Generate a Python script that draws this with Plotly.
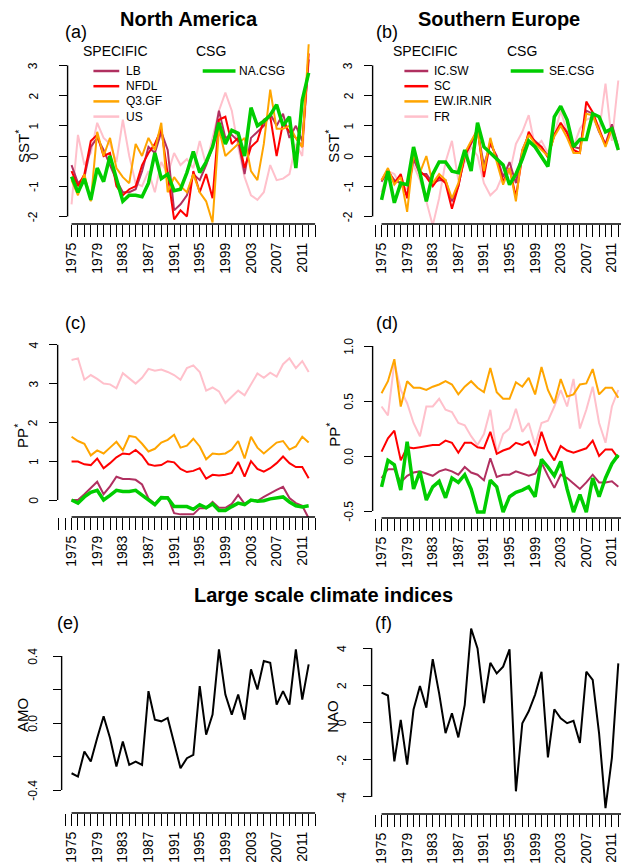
import plotly.graph_objects as go

years = list(range(1975, 2013))

# ---------------- (a) North America, SST* ----------------
na_sst_lb = [-0.3, -0.9, -0.7, 0.3, 0.6, 0.2, -0.3, -0.8, -1.2, -1.2, -1.1, -0.5, 0.3, 0.1, 0.8, 0.2,
             -1.8, -1.6, -1.3, -0.6, -0.8, -0.3, 0.3, 1.5, 0.6, 0.7, 0.5, -0.6, 0.6, 0.8, 1.0, 1.4,
             1.0, 1.4, 0.6, 1.0, 0.5, 3.2]
na_sst_nfdl = [-0.5, -1.0, -0.6, 0.5, 0.7, 0.0, 0.1, -1.0, -1.3, -1.1, -1.0, -0.3, 0.1, 0.4, 0.9, -0.6,
               -2.1, -1.8, -2.0, -0.5, -1.2, -0.6, -1.4, 1.2, 1.3, 0.4, 0.6, -0.4, 0.3, 0.5, 1.2, 1.3,
               0.0, 1.1, 0.8, 0.6, 0.3, 3.4]
na_sst_q3gf = [-0.8, -1.3, -0.6, -1.5, 0.8, 0.0, 0.6, -0.4, -0.7, -0.9, 0.4, 0.0, 0.6, 0.2, 1.1, -1.2,
               -0.7, -1.0, -1.2, -0.6, -1.2, -1.5, -2.2, 0.9, 0.0, 0.2, 0.4, 0.6, -0.5, -0.8, 0.4, 2.2,
               0.9, 0.9, 1.0, 0.6, 0.3, 3.7]
na_sst_us = [-1.6, 0.7, -0.3, 0.1, 1.1, 0.6, 0.4, -0.2, 1.2, 0.0, -0.9, -1.0, -0.5, -1.2, -0.2, -0.6,
             0.1, -0.3, -0.1, -0.4, 0.5, -0.3, 0.6, 1.5, 2.1, 1.5, 0.3, -0.7, -1.3, -1.45, -1.2, -0.3,
             -0.8, -0.75, -0.6, 0.4, 0.0, 3.2]
na_sst_csg = [-0.68, -1.2, -0.75, -1.45, -0.4, -0.85, 0.0, -0.8, -1.5, -1.3, -1.3, -1.35, -0.9, 0.1,
              -0.75, -0.6, -1.15, -1.1, -0.55, 0.15, -0.55, -0.2, 0.3, 1.1, 0.4, 0.85, 0.75, 0.0, 1.6,
              1.0, 1.15, 1.35, 1.7, 1.0, 1.3, -0.4, 1.85, 2.75]

# ---------------- (b) Southern Europe, SST* ----------------
se_sst_icsw = [-0.85, -0.5, -0.8, -0.9, -1.3, -0.1, -0.6, -0.6, -0.9, -0.8, -0.8, -1.5, -1.0, 0.0, 0.4,
               0.85, -0.3, 0.4, 0.0, -0.7, -0.2, -0.9, 0.2, 0.7, 0.5, 0.3, 0.0, 0.7, 1.05, 0.8, 0.3,
               0.25, 1.5, 1.4, 0.8, 0.4, 1.05, 0.3]
se_sst_sc = [-0.8, -0.45, -0.9, -0.6, -1.4, 0.05, -0.5, -0.7, -1.0, -0.7, -0.9, -1.75, -1.0, 0.0, 0.45,
             0.9, -0.7, 0.5, -0.1, -0.85, -0.4, -1.35, 0.0, 0.8, 0.45, 0.3, -0.05, 0.7, 1.1, 0.75, 0.2,
             0.1, 1.8, 1.45, 0.9, 0.35, 0.95, 0.2]
se_sst_ewirnir = [-0.8, -0.4, -0.95, -0.7, -1.85, 0.1, -0.55, 0.0, -0.9, -0.6, -0.8, -1.4, -0.9, 0.1,
                  0.5, 0.85, -0.5, 0.6, -0.2, -0.95, -0.4, -1.5, 0.2, 0.7, 0.4, 0.2, 0.0, 0.65, 1.0,
                  0.6, 0.1, 0.1, 1.4, 1.35, 0.8, 0.3, 0.9, 0.25]
se_sst_fr = [-1.2, -0.5, -0.6, -1.0, -1.1, -0.3, -0.8, -1.5, -2.3, -1.4, -0.2, 0.5, -0.8, -0.2, 0.3,
             0.0, -0.9, -1.3, -1.1, -0.6, -0.6, 0.4, 0.8, 1.35, 0.3, 0.5, 0.1, 0.7, 1.5, 0.8, 0.3,
             0.9, 1.2, 1.3, 0.8, 2.4, 0.5, 2.5]
se_sst_csg = [-1.45, -0.5, -1.55, -0.9, -0.95, 0.3, -0.55, -1.5, -0.6, -0.2, -0.2, -0.5, -0.55, 0.2,
              -0.5, 1.1, 0.3, 0.1, -0.1, -0.3, -0.95, -0.6, -0.1, 0.5, 0.3, 0.0, -0.35, 1.3, 1.65,
              1.2, 0.3, 0.55, 0.55, 1.4, 1.3, 0.8, 0.9, 0.2]

# ---------------- (c) North America, PP* ----------------
na_pp_lb = [0.0, 0.0, 0.15, 0.3, 0.47, 0.15, 0.35, 0.6, 0.54, 0.54, 0.52, 0.4, 0.04, -0.1, 0.08, 0.08,
            -0.34, -0.37, -0.37, -0.37, -0.21, -0.21, -0.05, -0.2, -0.2, -0.1, 0.13, -0.1, 0.0, -0.02,
            0.08, 0.18, 0.26, 0.34, 0.05, -0.08, -0.15, -0.47]
na_pp_nfdl = [0.99, 0.99, 0.92, 0.9, 1.07, 0.82, 0.95, 1.1, 1.2, 1.18, 1.29, 1.15, 0.92, 0.88, 0.9, 1.0,
              0.97, 0.8, 0.72, 0.75, 0.82, 0.55, 0.65, 0.63, 0.65, 0.7, 0.98, 0.6, 1.0, 0.8, 0.73, 0.82,
              0.95, 1.12, 0.95, 0.85, 0.85, 0.56]
na_pp_q3gf = [1.63, 1.52, 1.45, 1.15, 1.28, 1.2, 1.35, 1.5, 1.28, 1.65, 1.62, 1.45, 1.25, 1.32, 1.48,
              1.55, 1.68, 1.35, 1.4, 1.58, 1.38, 1.05, 1.2, 1.18, 1.2, 1.3, 1.52, 1.07, 1.63, 1.35, 1.2,
              1.35, 1.48, 1.52, 1.3, 1.38, 1.63, 1.48]
na_pp_us = [3.61, 3.65, 3.1, 3.22, 3.12, 3.0, 2.98, 2.88, 3.27, 3.13, 3.0, 3.15, 3.38, 3.33, 3.36, 3.3,
            3.22, 3.1, 3.4, 3.47, 3.3, 2.82, 2.9, 2.8, 2.5, 2.66, 2.82, 2.7, 3.0, 3.26, 3.15, 3.28, 3.18,
            3.5, 3.65, 3.4, 3.58, 3.3]
na_pp_csg = [0.0, -0.08, 0.08, 0.2, 0.25, 0.0, 0.12, 0.25, 0.22, 0.22, 0.25, 0.12, 0.0, -0.12, 0.06,
             0.05, -0.17, -0.17, -0.17, -0.24, -0.12, -0.2, -0.1, -0.27, -0.27, -0.17, -0.08, -0.12,
             0.0, -0.03, -0.02, 0.03, 0.05, 0.08, -0.05, -0.15, -0.18, -0.15]

# ---------------- (d) Southern Europe, PP* ----------------
se_pp_icsw = [-0.2, -0.12, -0.12, -0.24, -0.18, -0.15, -0.14, -0.16, -0.18, -0.14, -0.12, -0.14, -0.17,
              -0.1, -0.15, -0.17, -0.22, -0.02, -0.19, -0.17, -0.17, -0.14, -0.16, -0.18, -0.16, -0.06,
              -0.18, -0.29, -0.17, -0.2, -0.25, -0.3, -0.24, -0.17, -0.24, -0.24, -0.23, -0.28]
se_pp_sc = [0.04, 0.16, 0.23, -0.04, 0.08, 0.07, 0.08, 0.09, 0.1, 0.1, 0.14, 0.12, 0.03, 0.12, 0.12, 0.08,
            0.07, 0.22, 0.02, 0.05, 0.07, 0.12, 0.1, 0.13, 0.0, 0.22, 0.05, -0.04, 0.09, 0.05, 0.03, 0.05,
            0.07, 0.14, 0.0, 0.06, 0.06, -0.02]
se_pp_ewirnir = [0.57, 0.68, 0.88, 0.45, 0.68, 0.62, 0.62, 0.6, 0.63, 0.65, 0.68, 0.65, 0.56, 0.63, 0.68,
                 0.62, 0.58, 0.8, 0.58, 0.52, 0.52, 0.67, 0.63, 0.71, 0.56, 0.81, 0.6, 0.48, 0.7, 0.54,
                 0.56, 0.65, 0.66, 0.79, 0.56, 0.62, 0.62, 0.53]
se_pp_fr = [0.45, 0.37, 0.85, 0.6, 0.48, 0.3, 0.18, 0.45, 0.45, 0.52, 0.42, 0.4, 0.3, 0.28, 0.18, 0.1,
            0.2, 0.42, 0.03, 0.2, 0.25, 0.43, 0.22, 0.3, 0.1, 0.3, 0.32, 0.45, 0.6, 0.45, 0.7, 0.25, 0.42,
            0.63, 0.3, 0.12, 0.45, 0.6]
se_pp_csg = [-0.28, -0.04, -0.08, -0.31, 0.13, -0.3, -0.14, -0.4, -0.28, -0.23, -0.38, -0.2, -0.24,
             -0.17, -0.3, -0.51, -0.51, -0.22, -0.28, -0.51, -0.37, -0.33, -0.31, -0.28, -0.37, -0.03,
             -0.1, -0.18, -0.05, -0.3, -0.51, -0.35, -0.51, -0.2, -0.37, -0.2, -0.07, 0.01]

# ---------------- (e) AMO, (f) NAO ----------------
amo = [-0.30, -0.32, -0.17, -0.23, -0.09, 0.04, -0.09, -0.26, -0.11, -0.25, -0.23, -0.25, 0.19, 0.02,
       0.01, 0.03, -0.12, -0.27, -0.21, -0.19, 0.22, -0.07, 0.05, 0.44, 0.17, 0.05, 0.17, 0.02, 0.32,
       0.20, 0.37, 0.36, 0.11, 0.19, 0.11, 0.44, 0.14, 0.35]
nao = [1.61, 1.45, -2.09, 0.14, -2.27, 0.7, 1.96, 0.8, 3.41, 1.57, -0.57, 0.5, -0.8, 0.95, 5.05, 3.98,
       1.04, 3.21, 2.64, 3.0, 3.93, -3.7, -0.04, 0.6, 1.5, 2.73, -1.88, 0.71, 0.23, -0.04, 0.09, -1.1,
       2.73, 2.29, -0.6, -4.6, -1.9, 3.18]

# ---------------- tick labels ----------------
sst_ticks = [-2, -1, 0, 1, 2, 3]
sst_ticktext = ["-2", "-1", "0", "1", "2", "3"]
pp_na_ticks = [0, 1, 2, 3, 4]
pp_na_ticktext = ["0", "1", "2", "3", "4"]
pp_se_ticks = [-0.5, 0.0, 0.5, 1.0]
pp_se_ticktext = ["-0.5", "0.0", "0.5", "1.0"]
amo_ticks = [-0.4, -0.2, 0.0, 0.2, 0.4]
amo_ticktext = ["-0.4", "", "0.0", "", "0.4"]
nao_ticks = [-4, -2, 0, 2, 4]
nao_ticktext = ["-4", "-2", "0", "2", "4"]

na_names = ["LB", "NFDL", "Q3.GF", "US"]
se_names = ["IC.SW", "SC", "EW.IR.NIR", "FR"]

# ---------------- styling ----------------
W, H = 621, 867
FONT = "Liberation Sans, Arial, Helvetica, sans-serif"
MAROON, RED, ORANGE, PINK, GREEN = "#B03060", "#FF0000", "#FFA500", "#FFC0CB", "#00CD00"
series_cols = [MAROON, RED, ORANGE, PINK]


def py(p):
    return 1 - p / H


def pxx(p):
    return p / W


fig = go.Figure()

# panel geometry in pixels
panels = {
    "a": dict(ax=1, xl=64, xr=315, yt=44, yb=224, x1975=68, sx=6.45, y0=156, sy=30.2,
              ticks=sst_ticks, ticktext=sst_ticktext, labx=30),
    "b": dict(ax=2, xl=371, xr=621, yt=44, yb=224, x1975=380, sx=6.44, y0=156, sy=30.2,
              ticks=sst_ticks, ticktext=sst_ticktext, labx=347),
    "c": dict(ax=3, xl=54, xr=315, yt=339, yb=517, x1975=68, sx=6.45, y0=500, sy=38.8,
              ticks=pp_na_ticks, ticktext=pp_na_ticktext, labx=30),
    "d": dict(ax=4, xl=371, xr=621, yt=339, yb=518, x1975=380, sx=6.44, y0=456, sy=110.0,
              ticks=pp_se_ticks, ticktext=pp_se_ticktext, labx=347),
    "e": dict(ax=5, xl=58, xr=315, yt=621, yb=813, x1975=68, sx=6.45, y0=723, sy=167.5,
              ticks=amo_ticks, ticktext=amo_ticktext, labx=29),
    "f": dict(ax=6, xl=370, xr=621, yt=621, yb=814, x1975=380, sx=6.44, y0=722.5, sy=18.6,
              ticks=nao_ticks, ticktext=nao_ticktext, labx=340),
}

layout_axes = {}
shapes = []
annotations = []

for key, p in panels.items():
    n = p["ax"]
    sfx = "" if n == 1 else str(n)
    xr0 = 1975 - (p["x1975"] - p["xl"]) / p["sx"]
    xr1 = xr0 + (p["xr"] - p["xl"]) / p["sx"]
    yr0 = (p["y0"] - p["yb"]) / p["sy"]
    yr1 = (p["y0"] - p["yt"]) / p["sy"]
    layout_axes["xaxis" + sfx] = dict(
        domain=[pxx(p["xl"]), pxx(p["xr"])], range=[xr0, xr1], anchor="y" + sfx,
        showgrid=False, zeroline=False, showline=False,
        tickmode="linear", tick0=1975, dtick=4, tickangle=-90,
        ticks="outside", ticklen=12, tickwidth=1.4, tickcolor="black",
        tickfont=dict(family=FONT, size=14, color="black"),
        minor=dict(tickmode="linear", tick0=1975, dtick=1, ticks="outside", ticklen=12,
                   tickwidth=1.4, tickcolor="black", showgrid=False),
    )
    layout_axes["yaxis" + sfx] = dict(
        domain=[py(p["yb"]), py(p["yt"])], range=[yr0, yr1], anchor="x" + sfx,
        showgrid=False, zeroline=False, showline=False,
        tickmode="array", tickvals=p["ticks"], showticklabels=False,
        ticks="outside", ticklen=8, tickwidth=1.4, tickcolor="black",
    )
    xa = "x" + sfx
    ya = "y" + sfx
    # R-style axis lines spanning first to last tick
    shapes.append(dict(type="line", xref=xa + " domain", yref=ya, x0=0, x1=0,
                       y0=min(p["ticks"]), y1=max(p["ticks"]), line=dict(color="black", width=1.4)))
    shapes.append(dict(type="line", xref=xa, yref=ya + " domain", x0=1975, x1=2013,
                       y0=0, y1=0, line=dict(color="black", width=1.4)))
    # y tick labels (rotated, R style)
    for tv, tt in zip(p["ticks"], p["ticktext"]):
        if tt:
            annotations.append(dict(xref="paper", yref=ya, x=pxx(p["labx"]), y=tv, text=tt,
                                    showarrow=False, textangle=-90, xanchor="center", yanchor="middle",
                                    font=dict(family=FONT, size=12, color="black")))


def add_series(n, values, color, width, name):
    sfx = "" if n == 1 else str(n)
    fig.add_trace(go.Scatter(x=years, y=values, mode="lines", name=name,
                             line=dict(color=color, width=width),
                             xaxis="x" + sfx, yaxis="y" + sfx, showlegend=False,
                             hoverinfo="skip"))


for vals, col, nm in zip([na_sst_us, na_sst_lb, na_sst_nfdl, na_sst_q3gf],
                         [PINK, MAROON, RED, ORANGE], [na_names[3], na_names[0], na_names[1], na_names[2]]):
    add_series(1, vals, col, 2, nm)
add_series(1, na_sst_csg, GREEN, 3.5, "NA.CSG")

for vals, col, nm in zip([se_sst_fr, se_sst_icsw, se_sst_sc, se_sst_ewirnir],
                         [PINK, MAROON, RED, ORANGE], [se_names[3], se_names[0], se_names[1], se_names[2]]):
    add_series(2, vals, col, 2, nm)
add_series(2, se_sst_csg, GREEN, 3.5, "SE.CSG")

for vals, col, nm in zip([na_pp_us, na_pp_lb, na_pp_nfdl, na_pp_q3gf],
                         [PINK, MAROON, RED, ORANGE], [na_names[3], na_names[0], na_names[1], na_names[2]]):
    add_series(3, vals, col, 2, nm)
add_series(3, na_pp_csg, GREEN, 3.5, "NA.CSG")

for vals, col, nm in zip([se_pp_fr, se_pp_icsw, se_pp_sc, se_pp_ewirnir],
                         [PINK, MAROON, RED, ORANGE], [se_names[3], se_names[0], se_names[1], se_names[2]]):
    add_series(4, vals, col, 2, nm)
add_series(4, se_pp_csg, GREEN, 3.5, "SE.CSG")

add_series(5, amo, "black", 2, "AMO")
add_series(6, nao, "black", 2, "NAO")


def text(x, y, s, size, bold=False, angle=0, xanchor="center"):
    annotations.append(dict(xref="paper", yref="paper", x=pxx(x), y=py(y), text=("<b>%s</b>" % s) if bold else s,
                            showarrow=False, textangle=angle, xanchor=xanchor, yanchor="middle",
                            font=dict(family=FONT, size=size, color="black")))


# titles
text(186, 19, "North America", 20, bold=True)
text(498, 19, "Southern Europe", 20, bold=True)
text(322, 595, "Large scale climate indices", 20, bold=True)
# panel labels
for lab, x, y in [("(a)", 72, 32), ("(b)", 385, 32), ("(c)", 72, 323), ("(d)", 385, 323), ("(e)", 64, 623),
                  ("(f)", 382, 623)]:
    text(x, y, lab, 18)
# y labels
text(18, 146, "SST<sup>*</sup>", 15, angle=-90)
text(330, 146, "SST<sup>*</sup>", 15, angle=-90)
text(17, 436, "PP<sup>*</sup>", 15, angle=-90)
text(331, 435, "PP<sup>*</sup>", 15, angle=-90)
text(18, 715, "AMO", 15, angle=-90)
text(330, 716, "NAO", 15, angle=-90)


# legends
def legend(x_head1, x_head2, line_x0, line_x1, text_x, names, csg_x0, csg_x1, csg_tx, csg_name):
    text(x_head1, 51, "SPECIFIC", 14)
    text(x_head2, 51, "CSG", 14)
    for i, (nm, col) in enumerate(zip(names, series_cols)):
        yy = 71 + i * 15.2
        shapes.append(dict(type="line", xref="paper", yref="paper", x0=pxx(line_x0), x1=pxx(line_x1),
                           y0=py(yy), y1=py(yy), line=dict(color=col, width=2.5)))
        text(text_x, yy, nm, 12, xanchor="left")
    shapes.append(dict(type="line", xref="paper", yref="paper", x0=pxx(csg_x0), x1=pxx(csg_x1),
                       y0=py(71), y1=py(71), line=dict(color=GREEN, width=3.5)))
    text(csg_tx, 71, csg_name, 12, xanchor="left")


legend(112, 208, 90, 116, 121, na_names, 200, 233, 235, "NA.CSG")
legend(424, 521, 403, 427, 431, se_names, 510, 543, 547, "SE.CSG")

fig.update_layout(
    width=W, height=H, margin=dict(l=0, r=0, t=0, b=0),
    paper_bgcolor="white", plot_bgcolor="white", showlegend=False,
    shapes=shapes, annotations=annotations, **layout_axes,
)

fig.write_html("out.html")
